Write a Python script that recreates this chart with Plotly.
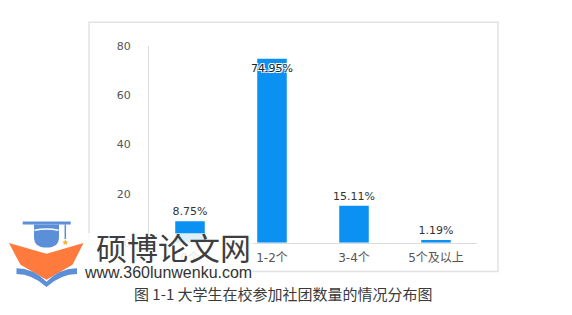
import plotly.graph_objects as go

categories = ["0个", "1-2个", "3-4个", "5个及以上"]
values = [8.75, 74.95, 15.11, 1.19]
y_ticks = [0, 20, 40, 60, 80]
caption = "图 1-1 大学生在校参加社团数量的情况分布图"
wm_title = "硕博论文网"
wm_url = "www.360lunwenku.com"

W, H = 572, 315


def px(x):
    return x / W


def py(y):
    return 1 - y / H


def path(cmds):
    out = []
    for c in cmds:
        if isinstance(c, str):
            out.append(c)
        else:
            out.append(f"{px(c[0]):.5f},{py(c[1]):.5f}")
    return " ".join(out)


BAR = "#0A91F2"
BLUE_LOGO = "#5B8FD8"
ORANGE = "#FF7A3D"

fig = go.Figure()
fig.add_trace(go.Bar(
    x=categories, y=values,
    marker=dict(color=BAR, line=dict(width=0)),
    texttemplate="%{y:.2f}%",
    textposition=["outside", "inside", "outside", "outside"],
    insidetextanchor="end",
    constraintext="none",
    textangle=0,
    outsidetextfont=dict(family="DejaVu Sans", size=11, color="#333333"),
    insidetextfont=dict(family="DejaVu Sans", size=11, color="#222222",
                        shadow="1px 1px 0 #fff, -1px -1px 0 #fff, 1px -1px 0 #fff, -1px 1px 0 #fff"),
    cliponaxis=False,
    hoverinfo="skip",
))

shapes = [
    # chart frame
    dict(type="rect", xref="paper", yref="paper", x0=px(89), x1=px(498), y0=py(277), y1=py(17),
         line=dict(color="#E2E2E2", width=1.5), fillcolor="rgba(0,0,0,0)", layer="below"),
    # watermark white veil
    dict(type="rect", xref="paper", yref="paper", x0=px(84), x1=px(253), y0=py(287), y1=py(237),
         line=dict(width=0), fillcolor="rgba(255,255,255,0.86)", layer="above"),
    # logo: cap board
    dict(type="rect", xref="paper", yref="paper", x0=px(22.7), x1=px(70.7), y0=py(227.8), y1=py(224.8),
         line=dict(width=0), fillcolor=BLUE_LOGO, layer="above"),
    # cap bowl
    dict(type="path", xref="paper", yref="paper",
         path=path(["M", (34, 227.8), "L", (59, 227.8), "L", (59, 241), "Q", (59, 252), (46.5, 252),
                    "Q", (34, 252), (34, 241), "Z"]),
         line=dict(width=0), fillcolor=BLUE_LOGO, layer="above"),
    dict(type="path", xref="paper", yref="paper",
         path=path(["M", (34.5, 234), "Q", (46.5, 231), (58.5, 234)]),
         line=dict(color="white", width=1.5), layer="above"),
    # tassel
    dict(type="line", xref="paper", yref="paper", x0=px(65.3), x1=px(65.3), y0=py(227.8), y1=py(243),
         line=dict(color=BLUE_LOGO, width=1.5), layer="above"),
    dict(type="path", xref="paper", yref="paper",
         path=path(["M", (65.3, 243.5), "L", (66.3, 245.5), "L", (68.3, 245.8), "L", (66.8, 247.2),
                    "L", (67.2, 249.3), "L", (65.3, 248.3), "L", (63.4, 249.3), "L", (63.8, 247.2),
                    "L", (62.3, 245.8), "L", (64.3, 245.5), "Z"]),
         line=dict(width=0), fillcolor="#F5B53F", layer="above"),
    # orange chevron
    dict(type="path", xref="paper", yref="paper",
         path=path(["M", (9, 247.3), "L", (46.5, 258.5), "L", (83.5, 247.3), "L", (72.5, 270),
                    "L", (46.5, 285.5), "L", (20.5, 270), "Z"]),
         line=dict(width=0), fillcolor=ORANGE, layer="above"),
    # blue book
    dict(type="path", xref="paper", yref="paper",
         path=path(["M", (16.5, 273.5), "Q", (33, 273.5), (46.5, 287.5), "Q", (60, 273.5), (77, 273.5),
                    "L", (77, 279.5), "Q", (61, 279.5), (46.5, 293), "Q", (32, 279.5), (16.5, 279.5), "Z"]),
         line=dict(width=0), fillcolor=BLUE_LOGO, layer="above"),
]

annotations = [
    dict(text=wm_title, xref="paper", yref="paper", x=px(173), y=py(251), xanchor="center", yanchor="middle",
         showarrow=False, font=dict(family="Noto Sans CJK SC", size=31, color="#3E3E3E")),
    dict(text=wm_url, xref="paper", yref="paper", x=px(168), y=py(278), xanchor="center", yanchor="middle",
         showarrow=False, font=dict(family="Liberation Sans", size=16, color="#333333")),
    dict(text=caption, xref="paper", yref="paper", x=px(283.5), y=py(300), xanchor="center", yanchor="middle",
         showarrow=False, font=dict(family="Noto Sans CJK SC", size=15, color="#3A3A3A")),
]

fig.update_layout(
    width=W, height=H,
    margin=dict(l=0, r=0, t=0, b=0),
    paper_bgcolor="white",
    plot_bgcolor="white",
    showlegend=False,
    bargap=0.64,
    shapes=shapes,
    annotations=annotations,
    xaxis=dict(
        domain=[px(149), px(477)],
        showgrid=False, zeroline=False,
        showline=True, linecolor="#DCDCDC", linewidth=1.2,
        ticks="outside", ticklen=4, tickcolor="rgba(0,0,0,0)",
        tickfont=dict(family="DejaVu Sans, Noto Sans CJK SC", size=12, color="#555555"),
        fixedrange=True,
    ),
    yaxis=dict(
        domain=[py(247), py(42)],
        range=[0, 80],
        tickvals=y_ticks,
        showgrid=False, zeroline=False,
        showline=True, linecolor="#DCDCDC", linewidth=1.2,
        ticks="outside", ticklen=15, tickcolor="rgba(0,0,0,0)",
        tickfont=dict(family="DejaVu Sans", size=11, color="#555555"),
        fixedrange=True,
    ),
)

fig.write_html("out.html")
